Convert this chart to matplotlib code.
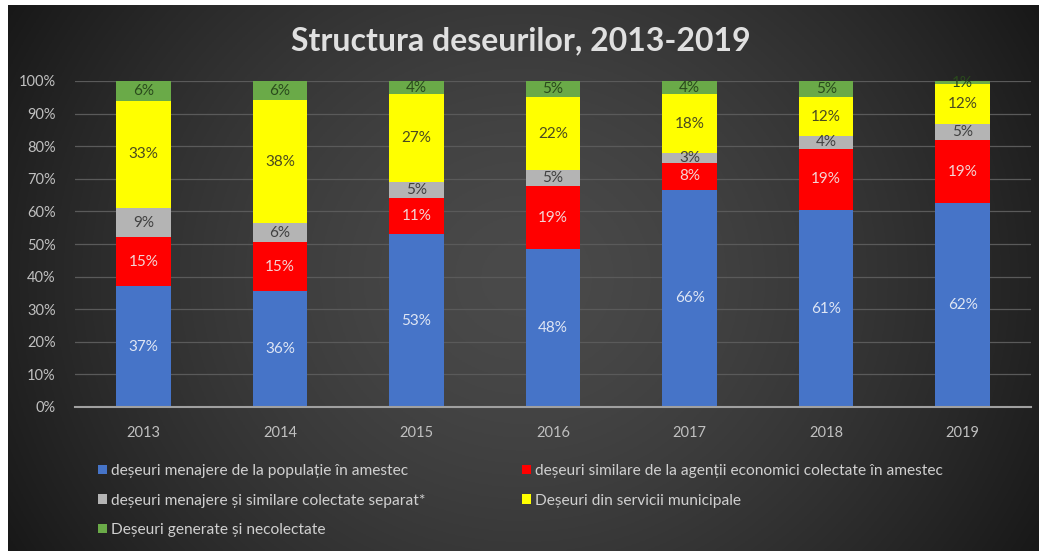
import numpy as np
import matplotlib
matplotlib.use('Agg')
import matplotlib.pyplot as plt
from matplotlib.patches import Patch

plt.rcParams['font.family'] = ['Lato', 'DejaVu Sans']

years = ['2013', '2014', '2015', '2016', '2017', '2018', '2019']
series_names = [
    'deșeuri menajere de la populație în amestec',
    'deșeuri similare de la agenții economici colectate în amestec',
    'deșeuri menajere și similare colectate separat*',
    'Deșeuri din servicii municipale',
    'Deșeuri generate și necolectate',
]
menajere = [37, 36, 53, 48, 66, 61, 62]
similare = [15, 15, 11, 19, 8, 19, 19]
separat = [9, 6, 5, 5, 3, 4, 5]
municipale = [33, 38, 27, 22, 18, 12, 12]
necolectate = [6, 6, 4, 5, 4, 5, 1]

colors = ['#4674c8', '#ff0000', '#b4b4b4', '#ffff00', '#6aaa48']
label_colors = ['#dfe6f4', '#f4d4d4', '#404040', '#4a4a20', '#2a4a1c']

data = np.array([menajere, similare, separat, municipale, necolectate], dtype=float)
shares = data / data.sum(axis=0)

fig = plt.figure(figsize=(10.42, 5.54), dpi=100, facecolor='white')

# dark gradient background
bg = fig.add_axes([8 / 1042, 3 / 554, 1031 / 1042, 546 / 554])
gx = np.linspace(-1, 1, 400)
gy = np.linspace(-1, 1, 220)
X, Y = np.meshgrid(gx, gy)
r = np.sqrt((X * 0.95) ** 2 + (Y * 0.55) ** 2)
shade = 0.29 - 0.17 * np.clip(r, 0, 1.2) ** 1.5
bg.imshow(np.dstack([shade] * 3), aspect='auto', extent=[0, 1, 0, 1])
bg.set_axis_off()

ax = fig.add_axes([75 / 1042, 1 - 407 / 554, 956 / 1042, 326 / 554])
ax.set_facecolor('none')
x = np.arange(len(years))
bottom = np.zeros(len(years))
for i in range(len(series_names)):
    ax.bar(x, shares[i], 0.4, bottom=bottom, color=colors[i], zorder=3)
    for j in range(len(years)):
        ax.text(x[j], bottom[j] + shares[i][j] / 2, '%d%%' % data[i][j],
                ha='center', va='center', fontsize=11, color=label_colors[i], zorder=4)
    bottom = bottom + shares[i]

ax.set_xlim(-0.5, len(years) - 0.5)
ax.set_ylim(0, 1)
ax.set_yticks(np.arange(0, 1.01, 0.1))
ax.set_yticklabels(['%d%%' % v for v in range(0, 101, 10)])
ax.set_xticks(x)
ax.set_xticklabels(years)
ax.tick_params(colors='#c0c0c0', labelsize=10.5, length=0)
ax.tick_params(axis='x', pad=14)
ax.tick_params(axis='y', pad=14)
ax.grid(axis='y', color='#5a5a5a', linewidth=0.9, zorder=0)
for s in ['top', 'right', 'left']:
    ax.spines[s].set_visible(False)
ax.spines['bottom'].set_color('#a0a0a0')
ax.spines['bottom'].set_linewidth(1.5)
ax.spines['bottom'].set_zorder(5)

fig.text(0.5, 1 - 41 / 554, 'Structura deseurilor, 2013-2019', ha='center', va='center',
         fontsize=23, fontweight='bold', color='#e0e0e0')

handles = [Patch(facecolor=c) for c in colors]
order = [0, 2, 4, 1, 3]
leg = fig.legend([handles[k] for k in order], [series_names[k] for k in order],
                 ncol=2, loc='upper left', bbox_to_anchor=(84 / 1042, 1 - 450 / 554),
                 frameon=False, fontsize=11.2, labelcolor='#d0d0d0',
                 handlelength=0.55, handleheight=0.55, handletextpad=0.3,
                 columnspacing=6.2, labelspacing=1.0)

fig.savefig('out.png', dpi=100, facecolor='white')
